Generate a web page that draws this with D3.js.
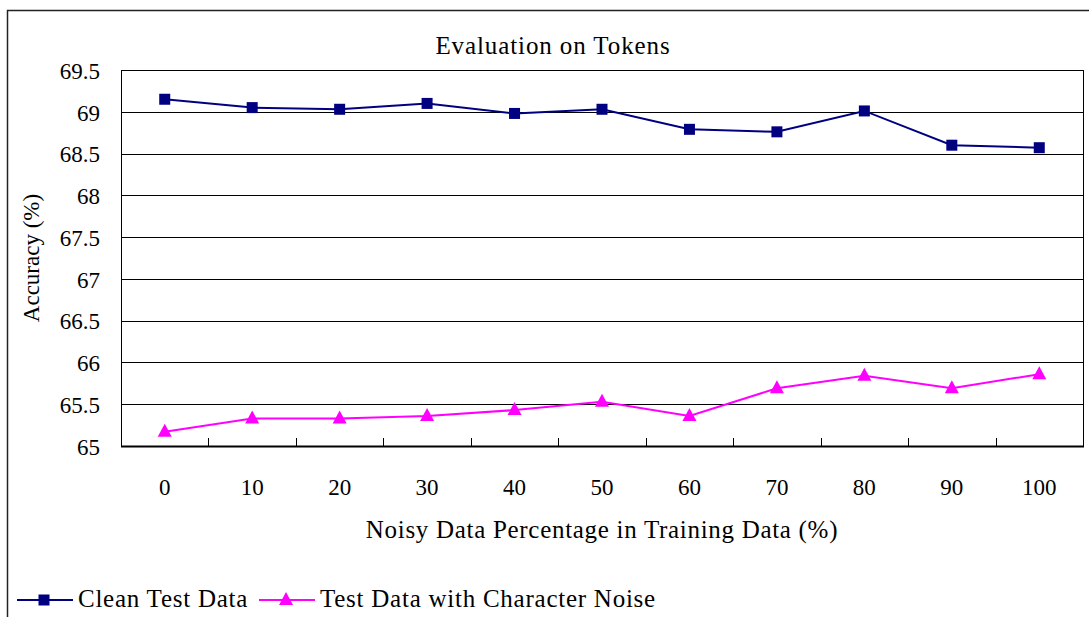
<!DOCTYPE html>
<html>
<head>
<meta charset="utf-8">
<script src="https://cdn.jsdelivr.net/npm/d3@7"></script>
<style>
  body { margin: 0; background: #fff; }
</style>
</head>
<body>
<svg id="chart" width="1089" height="617"></svg>
<script>
(function() {
  var categories = ['0', '10', '20', '30', '40', '50', '60', '70', '80', '90', '100'];
  var cleanValues = [69.15, 69.05, 69.03, 69.10, 68.98, 69.03, 68.79, 68.76, 69.01, 68.60, 68.57];
  var noiseValues = [65.17, 65.33, 65.33, 65.36, 65.43, 65.53, 65.36, 65.69, 65.84, 65.69, 65.86];
  var yTicks = [65, 65.5, 66, 66.5, 67, 67.5, 68, 68.5, 69, 69.5];

  var series = [
    { name: 'Clean Test Data', values: cleanValues, color: '#000080', marker: 'square' },
    { name: 'Test Data with Character Noise', values: noiseValues, color: '#ff00ff', marker: 'triangle' }
  ];

  var FONT = '"Liberation Serif", "Times New Roman", Times, serif';
  var plot = { left: 121, top: 70, right: 1083, bottom: 446 };

  var svg = d3.select('#chart').style('font-family', FONT);

  // outer frame (runs off the right and bottom edges)
  svg.append('rect')
    .attr('x', 7.5).attr('y', 10.5)
    .attr('width', 1200).attr('height', 800)
    .attr('fill', 'none').attr('stroke', '#222').attr('stroke-width', 1.5);

  var x = d3.scaleBand().domain(categories).range([plot.left, plot.right]);
  var y = d3.scaleLinear().domain([65, 69.5]).range([plot.bottom, plot.top]);

  // gridlines
  svg.append('g').selectAll('line').data(yTicks.slice(1))
    .enter().append('line')
    .attr('x1', plot.left).attr('x2', plot.right)
    .attr('y1', function(d) { return Math.round(y(d)) + 0.5; })
    .attr('y2', function(d) { return Math.round(y(d)) + 0.5; })
    .attr('stroke', '#000').attr('stroke-width', 1);

  // plot box
  svg.append('rect')
    .attr('x', plot.left + 0.5).attr('y', plot.top + 0.5)
    .attr('width', plot.right - plot.left).attr('height', plot.bottom - plot.top)
    .attr('fill', 'none').attr('stroke', '#000').attr('stroke-width', 1);

  // y axis
  var yAxis = d3.axisLeft(y).tickValues(yTicks).tickSize(0).tickPadding(21)
    .tickFormat(function(d) { return d3.format('')(d); });
  var gy = svg.append('g').attr('transform', 'translate(' + plot.left + ',0)').call(yAxis)
    .attr('font-family', FONT).attr('font-size', 23);
  gy.select('.domain').remove();
  gy.selectAll('text').attr('fill', '#000').attr('dy', '0.36em');

  // x axis: ticks between categories pointing up
  var gx = svg.append('g').attr('transform', 'translate(0,' + plot.bottom + ')');
  gx.append('line')
    .attr('x1', plot.left).attr('x2', plot.right + 1)
    .attr('y1', 0.5).attr('y2', 0.5)
    .attr('stroke', '#000').attr('stroke-width', 2);
  gx.selectAll('line.tick').data(categories.slice(1))
    .enter().append('line').attr('class', 'tick')
    .attr('x1', function(d) { return Math.round(x(d)) + 0.5; })
    .attr('x2', function(d) { return Math.round(x(d)) + 0.5; })
    .attr('y1', 0).attr('y2', -8)
    .attr('stroke', '#000').attr('stroke-width', 1);
  gx.selectAll('text').data(categories)
    .enter().append('text')
    .attr('x', function(d) { return x(d) + x.bandwidth() / 2; })
    .attr('y', 49)
    .attr('text-anchor', 'middle')
    .attr('font-size', 23)
    .text(function(d) { return d; });

  // titles
  svg.append('text').attr('x', 553).attr('y', 54).attr('text-anchor', 'middle')
    .attr('font-size', 25).style('letter-spacing', '0.9px').text('Evaluation on Tokens');
  svg.append('text').attr('x', 602).attr('y', 538).attr('text-anchor', 'middle')
    .attr('font-size', 25).style('letter-spacing', '0.7px')
    .text('Noisy Data Percentage in Training Data (%)');
  svg.append('text')
    .attr('transform', 'translate(39,258) rotate(-90)')
    .attr('text-anchor', 'middle')
    .attr('font-size', 23).text('Accuracy (%)');

  var cx = function(i) { return x(categories[i]) + x.bandwidth() / 2; };
  var line = d3.line()
    .x(function(d, i) { return cx(i); })
    .y(function(d) { return y(d); });

  var drawMarker = function(g, type, color) {
    if (type === 'square') {
      g.append('rect').attr('x', -5.5).attr('y', -5.5).attr('width', 11).attr('height', 11)
        .attr('fill', color);
    } else {
      g.append('path').attr('d', 'M0,-8L7,5L-7,5Z').attr('fill', color);
    }
  };

  series.forEach(function(s) {
    svg.append('path').datum(s.values)
      .attr('d', line)
      .attr('fill', 'none').attr('stroke', s.color).attr('stroke-width', 2);
    svg.append('g').selectAll('g').data(s.values)
      .enter().append('g')
      .attr('transform', function(d, i) { return 'translate(' + cx(i) + ',' + y(d) + ')'; })
      .each(function() { drawMarker(d3.select(this), s.marker, s.color); });
  });

  // legend
  var legendPos = [17, 259];
  series.forEach(function(s, i) {
    var lg = svg.append('g').attr('transform', 'translate(' + legendPos[i] + ',600)');
    lg.append('line').attr('x1', 0).attr('x2', 56).attr('y1', 0).attr('y2', 0)
      .attr('stroke', s.color).attr('stroke-width', 2);
    var m = lg.append('g').attr('transform', 'translate(27,0)');
    drawMarker(m, s.marker, s.color);
    lg.append('text').attr('x', 61).attr('y', 7).attr('font-size', 25)
      .style('letter-spacing', '0.75px').text(s.name);
  });
})();
</script>
</body>
</html>
